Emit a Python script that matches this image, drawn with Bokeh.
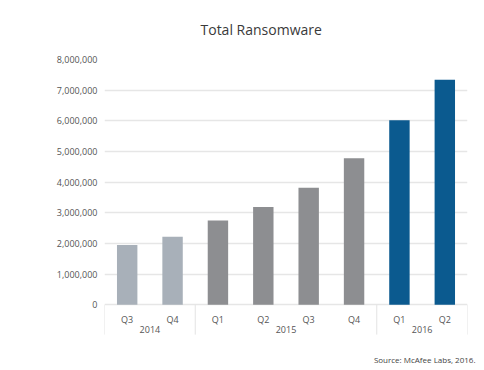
from bokeh.plotting import figure
from bokeh.models import (FactorRange, Range1d, FixedTicker, Title,
                          NumeralTickFormatter, ColumnDataSource)
from bokeh.core.properties import value
from bokeh.transform import factor_cmap
from bokeh.embed import file_html
from bokeh.resources import INLINE

# ---- data ----
years = ["2014", "2014", "2015", "2015", "2015", "2015", "2016", "2016"]
quarters = ["Q3", "Q4", "Q1", "Q2", "Q3", "Q4", "Q1", "Q2"]
values = [1950000, 2220000, 2750000, 3190000, 3820000, 4780000, 6020000, 7340000]
year_groups = ["2014", "2015", "2016"]
year_colors = ["#a8b0b9", "#8d8e91", "#0b5a8f"]
y_ticks = [0, 1000000, 2000000, 3000000, 4000000, 5000000, 6000000, 7000000, 8000000]

FONT = "Open Sans"
factors = list(zip(years, quarters))
source = ColumnDataSource(dict(x=factors, top=values))

# frame extends below zero so the axis-area separators can be drawn as glyphs
y_max = y_ticks[-1]
plot_px = 247.0
y_min = -y_max * 45 / plot_px
sep_end = -y_max * 30 / plot_px
year_y = -y_max * 25 / plot_px

p = figure(width=476, height=368, output_backend="svg", toolbar_location=None,
           x_range=FactorRange(*factors, factor_padding=0, group_padding=0, range_padding=0),
           y_range=Range1d(y_min, y_max),
           min_border_left=104, min_border_right=9, min_border_top=59, min_border_bottom=17)
p.outline_line_color = None
p.background_fill_color = "white"
p.border_fill_color = "white"

p.vbar(x="x", top="top", width=0.45, source=source, line_color=None,
       fill_color=factor_cmap("x", year_colors, year_groups, end=1))

# group separators (left edge of each group's first factor, right edge of the last)
sep_x = []
for g in year_groups:
    first = factors[years.index(g)]
    sep_x.append(first + (-0.5,))
sep_x.append(factors[-1] + (0.5,))
p.segment(x0=sep_x, y0=[0] * len(sep_x), x1=sep_x, y1=[sep_end] * len(sep_x),
          line_color="#e3e3e3", line_width=1)

# year group labels, centred on each group
p.text(x=year_groups, y=[year_y] * len(year_groups), text=year_groups,
       text_font=value(FONT), text_font_size="9px", text_color="#555555",
       text_align="center", text_baseline="middle")

# y axis
yax = p.yaxis[0]
yax.ticker = FixedTicker(ticks=y_ticks)
yax.formatter = NumeralTickFormatter(format="0,0")
yax.axis_line_color = None
yax.major_tick_line_color = None
yax.major_tick_out = 0
yax.major_tick_in = 0
yax.minor_tick_line_color = None
yax.major_label_standoff = 7
yax.major_label_text_font = FONT
yax.major_label_text_font_size = "9px"
yax.major_label_text_color = "#555555"

p.ygrid.ticker = FixedTicker(ticks=y_ticks)
p.ygrid.grid_line_color = "#e6e6e6"
p.ygrid.grid_line_width = 1.5
p.xgrid.grid_line_color = None

# x axis (nested categorical), placed at y = 0 inside the frame
xax = p.xaxis[0]
xax.fixed_location = 0
xax.axis_line_color = None
xax.major_tick_line_color = None
xax.major_tick_out = 0
xax.major_tick_in = 0
xax.minor_tick_line_color = None
xax.separator_line_color = None
xax.major_label_standoff = 8
xax.major_label_text_font = FONT
xax.major_label_text_font_size = "9px"
xax.major_label_text_color = "#555555"
xax.group_text_color = None

# title and source
p.title.text = "Total Ransomware"
p.title.align = "left"
p.title.offset = 96
p.title.standoff = 38
p.title.vertical_align = "top"
p.title.text_font = FONT
p.title.text_font_size = "14px"
p.title.text_font_style = "normal"
p.title.text_color = "#3a3a3a"

p.add_layout(Title(text="Source: McAfee Labs, 2016.", align="right", offset=-8, standoff=6,
                   vertical_align="middle",
                   text_font=FONT, text_font_size="8px", text_font_style="normal",
                   text_color="#444444"), "below")

open("out.html", "w").write(file_html(p, INLINE))
